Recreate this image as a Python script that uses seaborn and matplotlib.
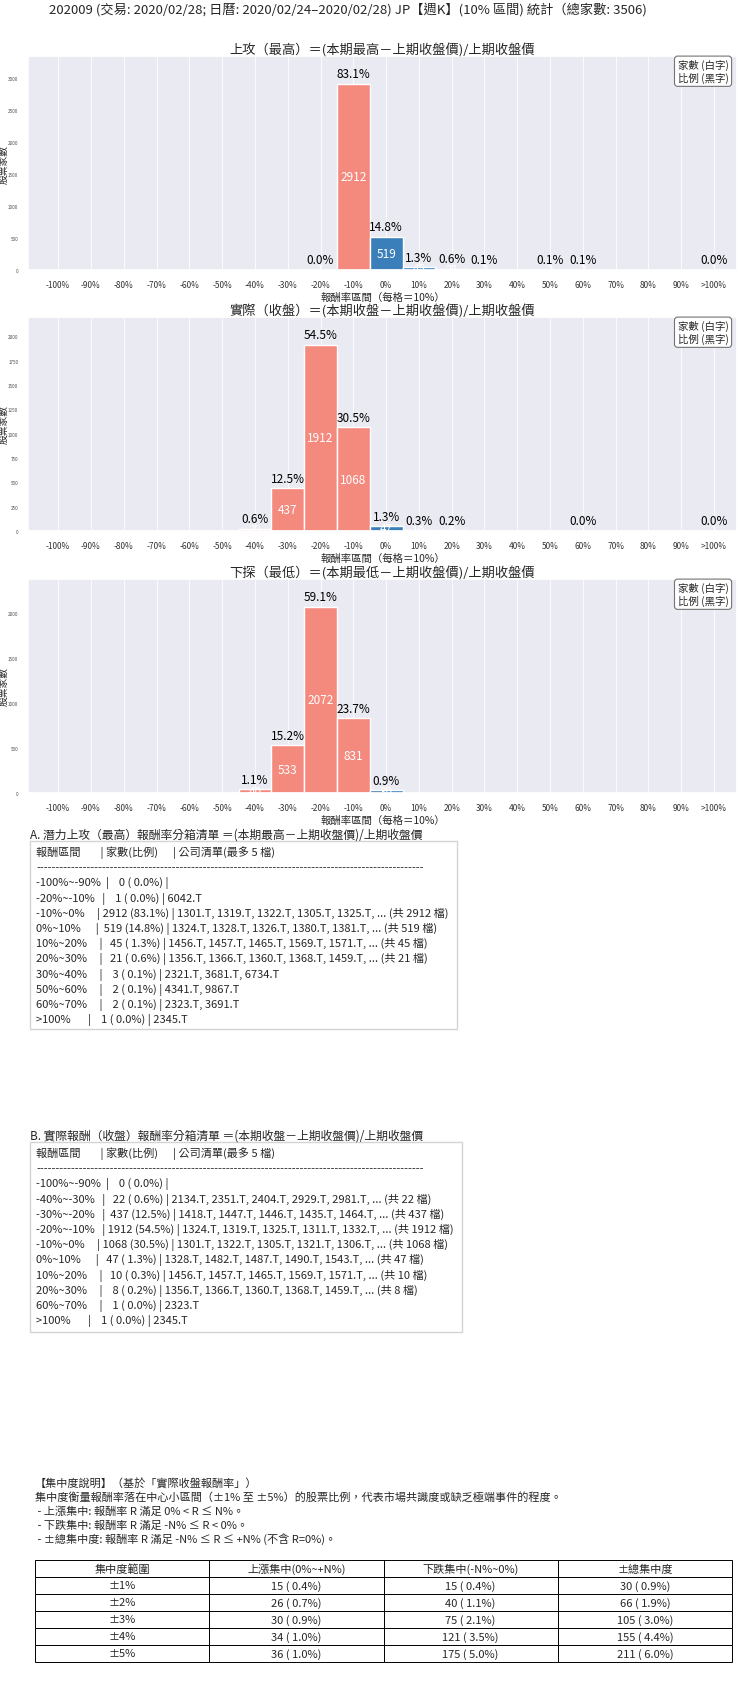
# ============================================================
# JP weekly return distribution (10% bins) - 202009
# ============================================================

import numpy as np
import pandas as pd
import matplotlib
matplotlib.use("Agg")
import matplotlib.pyplot as plt
from matplotlib.patches import Rectangle
import seaborn as sns


# ============================================================
# DATA
# ============================================================

TOTAL = 3506

bin_labels = ["-100%", "-90%", "-80%", "-70%", "-60%", "-50%", "-40%",
              "-30%", "-20%", "-10%", "0%", "10%", "20%", "30%", "40%",
              "50%", "60%", "70%", "80%", "90%", ">100%"]

range_labels = ["-100%~-90%", "-90%~-80%", "-80%~-70%", "-70%~-60%",
                "-60%~-50%", "-50%~-40%", "-40%~-30%", "-30%~-20%",
                "-20%~-10%", "-10%~0%", "0%~10%", "10%~20%", "20%~30%",
                "30%~40%", "40%~50%", "50%~60%", "60%~70%", "70%~80%",
                "80%~90%", "90%~100%", ">100%"]

counts_high = [0, 0, 0, 0, 0, 0, 0, 0, 1, 2912, 519, 45, 21, 3, 0, 2, 2, 0, 0, 0, 1]
counts_close = [0, 0, 0, 0, 0, 0, 22, 437, 1912, 1068, 47, 10, 8, 0, 0, 0, 1, 0, 0, 0, 1]
counts_low = [0, 0, 0, 0, 0, 0, 40, 533, 2072, 831, 30, 0, 0, 0, 0, 0, 0, 0, 0, 0, 0]

high_tickers = {
    "-20%~-10%": ["6042.T"],
    "-10%~0%": ["1301.T", "1319.T", "1322.T", "1305.T", "1325.T"],
    "0%~10%": ["1324.T", "1328.T", "1326.T", "1380.T", "1381.T"],
    "10%~20%": ["1456.T", "1457.T", "1465.T", "1569.T", "1571.T"],
    "20%~30%": ["1356.T", "1366.T", "1360.T", "1368.T", "1459.T"],
    "30%~40%": ["2321.T", "3681.T", "6734.T"],
    "50%~60%": ["4341.T", "9867.T"],
    "60%~70%": ["2323.T", "3691.T"],
    ">100%": ["2345.T"],
}

close_tickers = {
    "-40%~-30%": ["2134.T", "2351.T", "2404.T", "2929.T", "2981.T"],
    "-30%~-20%": ["1418.T", "1447.T", "1446.T", "1435.T", "1464.T"],
    "-20%~-10%": ["1324.T", "1319.T", "1325.T", "1311.T", "1332.T"],
    "-10%~0%": ["1301.T", "1322.T", "1305.T", "1321.T", "1306.T"],
    "0%~10%": ["1328.T", "1482.T", "1487.T", "1490.T", "1543.T"],
    "10%~20%": ["1456.T", "1457.T", "1465.T", "1569.T", "1571.T"],
    "20%~30%": ["1356.T", "1366.T", "1360.T", "1368.T", "1459.T"],
    "60%~70%": ["2323.T"],
    ">100%": ["2345.T"],
}

conc_ranges = ["±1%", "±2%", "±3%", "±4%", "±5%"]
conc_up = [15, 26, 30, 34, 36]
conc_down = [15, 40, 75, 121, 175]
conc_total = [30, 66, 105, 155, 211]

main_title = ("202009 (交易: 2020/02/28; 日曆: 2020/02/24–2020/02/28) "
              "JP【週K】(10% 區間) 統計（總家數: 3506)")
chart_titles = ["上攻（最高）＝(本期最高－上期收盤價)/上期收盤價",
                "實際（收盤）＝(本期收盤－上期收盤價)/上期收盤價",
                "下探（最低）＝(本期最低－上期收盤價)/上期收盤價"]


# ============================================================
# STYLE
# ============================================================

sns.set_theme(style="darkgrid")
plt.rcParams["font.family"] = ["Noto Sans CJK TC", "DejaVu Sans"]
plt.rcParams["axes.unicode_minus"] = False

NEG_COLOR = "#F48A7E"
POS_COLOR = "#3A7FBA"

W, H = 740, 1690
fig = plt.figure(figsize=(W / 100, H / 100), dpi=100)


def fy(px):
    return 1 - px / H


def fx(px):
    return px / W


# ============================================================
# HISTOGRAMS
# ============================================================

def draw_hist(ax, counts, title):
    df = pd.DataFrame({"bin": bin_labels, "count": counts})
    colors = [NEG_COLOR if i < 10 else POS_COLOR for i in range(len(bin_labels))]

    sns.barplot(
        data=df, x="bin", y="count", hue="bin", palette=colors,
        legend=False, width=1.0, saturation=1,
        edgecolor="white", linewidth=1, ax=ax
    )

    ax.set_ylim(0, max(counts) * 1.15)
    ax.set_xlim(-0.92, 20.7)
    ax.grid(axis="x", color="white", linewidth=0.6)
    ax.grid(axis="y", visible=False)
    ax.set_axisbelow(True)

    for i, c in enumerate(counts):
        if c == 0:
            continue
        pct = c / TOTAL * 100
        ax.annotate(f"{pct:.1f}%", (i, c), xytext=(0, 2.5),
                    textcoords="offset points", ha="center", va="bottom",
                    fontsize=8.5, color="black")
        ax.text(i, c / 2, str(c), ha="center", va="center",
                fontsize=8.5, color="white")

    ax.set_title(title, fontsize=9.5, pad=2)
    ax.set_xlabel("報酬率區間（每格＝10%）", fontsize=7.5, labelpad=2)
    ax.set_ylabel("股票家數", fontsize=7)
    ax.yaxis.set_label_coords(-0.0275, 0.5)
    ax.tick_params(axis="x", labelsize=6, pad=1.5, colors=".2")
    ax.tick_params(axis="y", labelsize=3.3, pad=1, colors=".3")

    ax.text(0.988, 0.985, "家數 (白字)\n比例 (黑字)", transform=ax.transAxes,
            ha="right", va="top", fontsize=7.5,
            bbox=dict(boxstyle="round,pad=0.3", fc="white", ec="0.45", lw=0.8))


axes_tops = [57, 318, 580]
ax_h = 214
for top, counts, title in zip(axes_tops, [counts_high, counts_close, counts_low], chart_titles):
    ax = fig.add_axes([fx(28), fy(top + ax_h), fx(709), ax_h / H])
    draw_hist(ax, counts, title)

fig.text(0.47, fy(10), main_title, ha="center", va="center", fontsize=9.5)


# ============================================================
# BIN LISTS
# ============================================================

def build_lines(counts, tickers):
    lines = [f"{'報酬區間':<12}| {'家數(比例)':<12}| 公司清單(最多 5 檔)", "-" * 100]
    for i, (label, c) in enumerate(zip(range_labels, counts)):
        if c == 0 and i != 0:
            continue
        pct = c / TOTAL * 100
        names = tickers.get(label, [])
        comp = ", ".join(names)
        if c > 5:
            comp += f", ... (共 {c} 檔)"
        lines.append(f"{label:<12}| {c:>4} ({pct:4.1f}%) | {comp}")
    return lines


def draw_list(title, title_y, box_top, box_bottom, box_right, lines, first_y):
    fig.text(fx(30), fy(title_y), title, ha="left", va="center", fontsize=8.5)
    fig.patches.append(Rectangle(
        (fx(30), fy(box_bottom)), fx(box_right - 30), (box_bottom - box_top) / H,
        transform=fig.transFigure, fill=True, fc="white", ec="#d4d4d4", lw=1
    ))
    for k, line in enumerate(lines):
        fig.text(fx(36), fy(first_y + k * 15.2), line, ha="left", va="center",
                 fontsize=8)


draw_list("A. 潛力上攻（最高）報酬率分箱清單 ＝(本期最高－上期收盤價)/上期收盤價",
          835, 842, 1030, 457, build_lines(counts_high, high_tickers), 853)

draw_list("B. 實際報酬（收盤）報酬率分箱清單 ＝(本期收盤－上期收盤價)/上期收盤價",
          1136, 1143, 1333, 462, build_lines(counts_close, close_tickers), 1154)


# ============================================================
# CONCENTRATION
# ============================================================

conc_text = [
    "【集中度說明】（基於「實際收盤報酬率」）",
    "集中度衡量報酬率落在中心小區間（±1% 至 ±5%）的股票比例，代表市場共識度或缺乏極端事件的程度。",
    " - 上漲集中: 報酬率 R 滿足 0% < R ≤ N%。",
    " - 下跌集中: 報酬率 R 滿足 -N% ≤ R < 0%。",
    " - ±總集中度: 報酬率 R 滿足 -N% ≤ R ≤ +N% (不含 R=0%)。",
]
for k, line in enumerate(conc_text):
    fig.text(fx(35), fy(1484 + k * 13.8), line, ha="left", va="center", fontsize=8)


def fmt(n):
    return f"{n} ({n / TOTAL * 100:4.1f}%)"


cell_text = [[r, fmt(u), fmt(d), fmt(t)]
             for r, u, d, t in zip(conc_ranges, conc_up, conc_down, conc_total)]

ax_t = fig.add_axes([fx(35), fy(1663), fx(697), 102 / H])
ax_t.axis("off")
tbl = ax_t.table(
    cellText=cell_text,
    colLabels=["集中度範圍", "上漲集中(0%~+N%)", "下跌集中(-N%~0%)", "±總集中度"],
    cellLoc="center", bbox=[0, 0, 1, 1]
)
tbl.auto_set_font_size(False)
tbl.set_fontsize(8)
for cell in tbl.get_celld().values():
    cell.set_edgecolor("black")
    cell.set_linewidth(0.7)
    cell.set_facecolor("white")

fig.savefig("out.png", dpi=100)
